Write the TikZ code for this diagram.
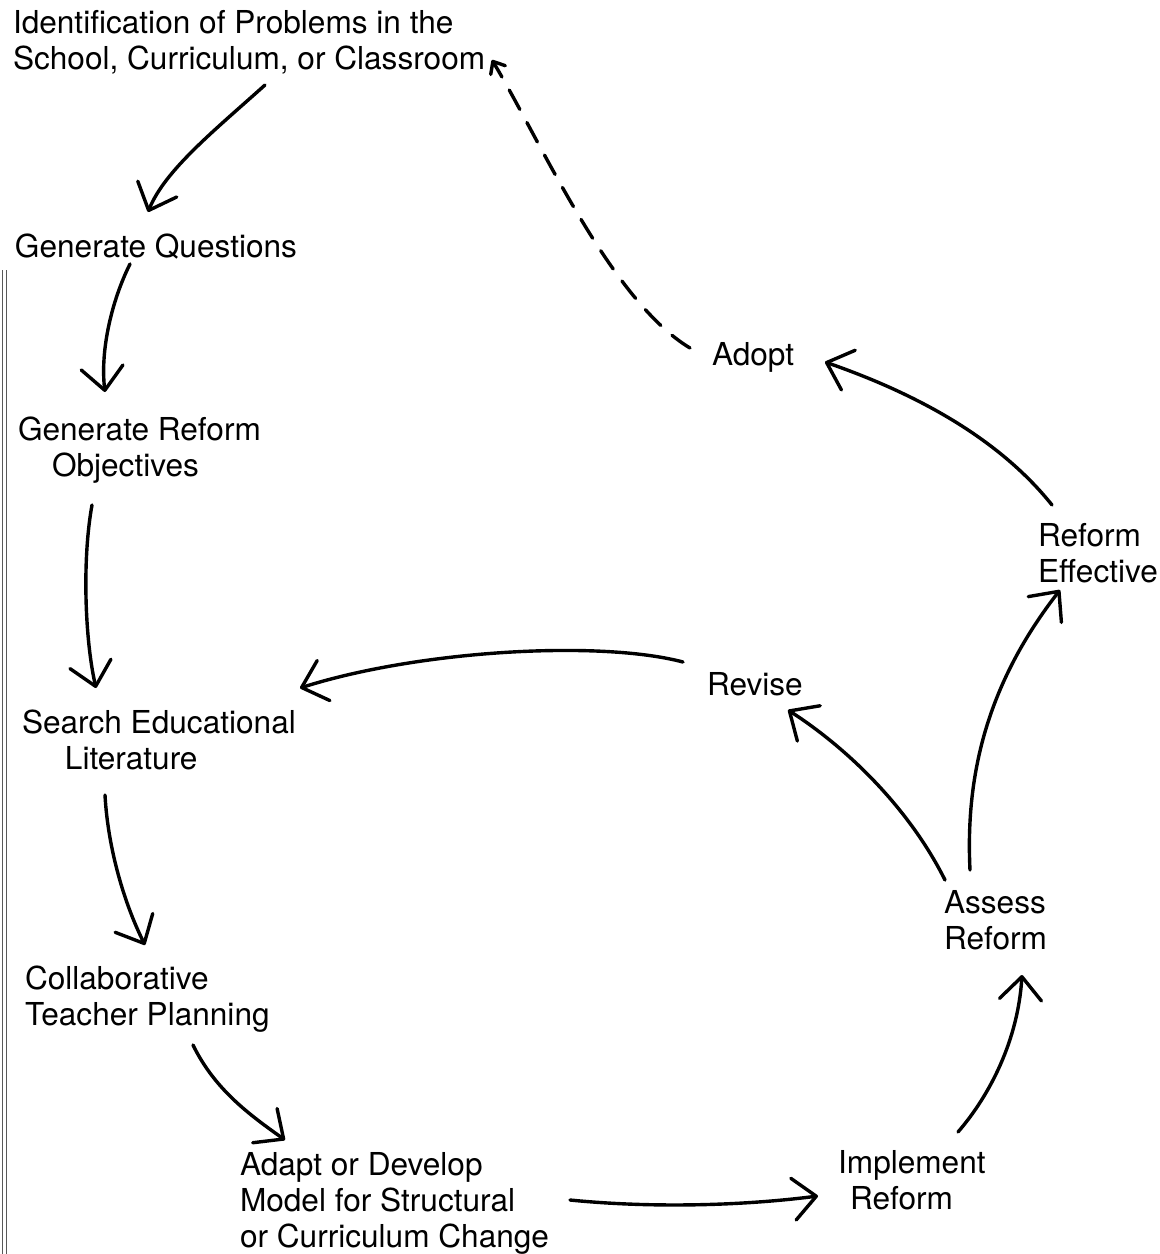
\documentclass[tikz,border=0pt]{standalone}
\usepackage{fontspec}
\setmainfont{TeX Gyre Heros}
\usetikzlibrary{arrows.meta}
\newcommand{\mylines}[1]{\begin{tabular}[t]{@{}l@{}}#1\end{tabular}}
\begin{document}
\begin{tikzpicture}[x=1pt,y=-1pt,
  lbl/.style={anchor=base west,inner sep=0pt,outer sep=0pt,font=\fontsize{31.6}{36}\selectfont},
  arr/.style={line width=3.4pt,line cap=round,line join=round,
    -{Straight Barb[length=23pt,width=42pt,line width=3.4pt,round]}},
  darr/.style={line width=3.4pt,line cap=round,dash pattern=on 22pt off 15pt,
    -{Straight Barb[length=10pt,width=17pt,line width=3.4pt,round]}},
  edge/.style={line width=0.8pt,draw=black!65}]
\useasboundingbox (0,0) rectangle (1160,1254);
% page edge of the scan
\draw[edge] (2,270) -- (2,1254);
\draw[edge] (6,270) -- (6,1254);

\node[lbl] (ident) at (13,33) {\mylines{Identification of Problems in the\\School, Curriculum, or Classroom}};
\node[lbl] (genq) at (15,257) {Generate Questions};
\node[lbl] (genobj) at (18,440) {\mylines{Generate Reform\\\hspace*{34pt}Objectives}};
\node[lbl] (search) at (22,733) {\mylines{Search Educational\\\hspace*{43pt}Literature}};
\node[lbl] (collab) at (25,989) {\mylines{Collaborative\\Teacher Planning}};
\node[lbl] (adapt) at (240,1175) {\mylines{Adapt or Develop\\Model for Structural\\or Curriculum Change}};
\node[lbl] (impl) at (838,1173) {\mylines{Implement\\\hspace*{12pt}Reform}};
\node[lbl] (assess) at (944,913) {\mylines{Assess\\Reform}};
\node[lbl] (revise) at (707,695) {Revise};
\node[lbl] (refeff) at (1038,546) {\mylines{Reform\\Effective}};
\node[lbl] (adopt) at (712,365) {Adopt};

% a
\draw[arr] ([shift={(252,52)}]ident.base west) .. controls (215,130) and (165,170) .. ([shift={(133,-45)}]genq.base west);
% b
\draw[arr] ([shift={(115,7)}]genq.base west) .. controls (112,300) and (100,350) .. ([shift={(87,-48)}]genobj.base west);
% c
\draw[arr] ([shift={(74,65)}]genobj.base west) .. controls (82,560) and (85,640) .. ([shift={(74,-45)}]search.base west);
% d
\draw[arr] ([shift={(83,62)}]search.base west) .. controls (108,850) and (125,905) .. ([shift={(120,-44)}]collab.base west);
% e
\draw[arr] ([shift={(168,56)}]collab.base west) .. controls (215,1090) and (250,1115) .. ([shift={(45,-35)}]adapt.base west);
% f
\draw[arr] ([shift={(330,25)}]adapt.base west) .. controls (650,1208) and (740,1206) .. ([shift={(-20,23)}]impl.base west);
% g
\draw[arr] ([shift={(120,-41)}]impl.base west) .. controls (990,1095) and (1018,1040) .. ([shift={(78,62)}]assess.base west);
% h
\draw[arr] ([shift={(1,-33)}]assess.base west) .. controls (910,810) and (850,750) .. ([shift={(81,15)}]revise.base west);
% i
\draw[arr] ([shift={(26,-43)}]assess.base west) .. controls (965,770) and (990,680) .. ([shift={(22,44)}]refeff.base west);
% j
\draw[arr] ([shift={(14,-41)}]refeff.base west) .. controls (1000,440) and (920,395) .. ([shift={(113,-3)}]adopt.base west);
% k
\draw[arr] ([shift={(-24,-33)}]revise.base west) .. controls (600,640) and (420,650) .. ([shift={(278,-45)}]search.base west);
% l dashed
\draw[darr] ([shift={(-22,-17)}]adopt.base west) .. controls (610,300) and (540,140) .. ([shift={(479,27)}]ident.base west);
\end{tikzpicture}
\end{document}
